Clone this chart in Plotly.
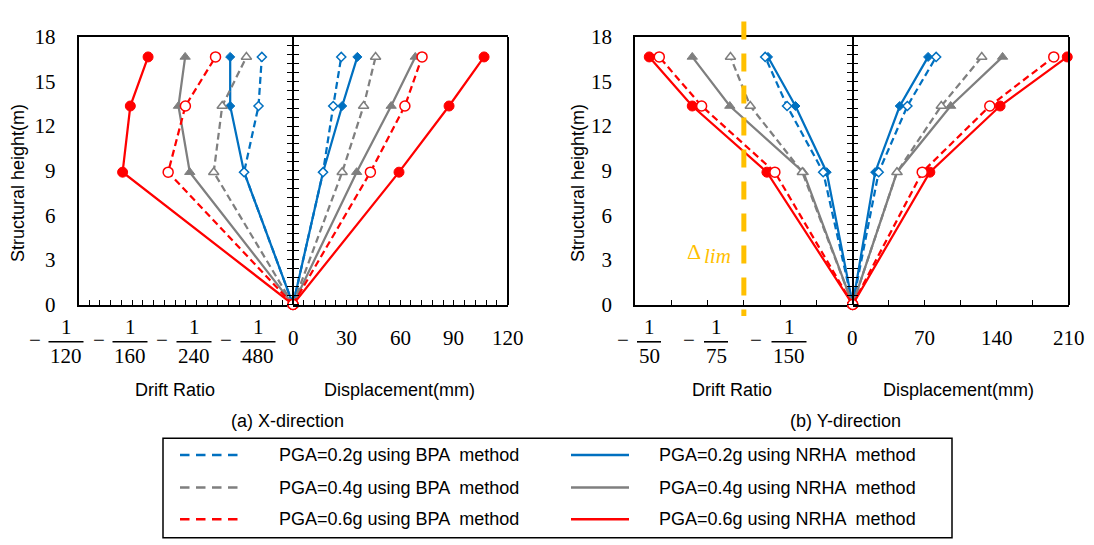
import plotly.graph_objects as go

W, H = 1094, 545

# ---------------- data ----------------
heights = [0, 8.9, 13.35, 16.65]

# (a) X-direction : drift ratio (left half, negative) and displacement in mm (right half)
xa_drift_nrha_02 = [0, -0.00190, -0.00244, -0.00244]
xa_drift_bpa_02 = [0, -0.00190, -0.00134, -0.00121]
xa_drift_nrha_04 = [0, -0.00401, -0.00445, -0.00419]
xa_drift_bpa_04 = [0, -0.00308, -0.00275, -0.00181]
xa_drift_nrha_06 = [0, -0.00662, -0.00632, -0.00563]
xa_drift_bpa_06 = [0, -0.00485, -0.00418, -0.00301]

xa_disp_nrha_02 = [0, 16.8, 27.5, 36.0]
xa_disp_bpa_02 = [0, 16.8, 22.5, 27.0]
xa_disp_nrha_04 = [0, 35.6, 54.9, 68.4]
xa_disp_bpa_04 = [0, 27.5, 39.5, 46.2]
xa_disp_nrha_06 = [0, 59.3, 87.3, 106.9]
xa_disp_bpa_06 = [0, 43.3, 62.6, 72.2]

# (b) Y-direction
yb_drift_nrha_02 = [0, -0.00239, -0.00526, -0.00778]
yb_drift_bpa_02 = [0, -0.00271, -0.00603, -0.00804]
yb_drift_nrha_04 = [0, -0.00453, -0.01129, -0.01474]
yb_drift_bpa_04 = [0, -0.00463, -0.00941, -0.01123]
yb_drift_nrha_06 = [0, -0.00788, -0.01474, -0.01869]
yb_drift_bpa_06 = [0, -0.00715, -0.01388, -0.01777]

yb_disp_nrha_02 = [0, 21.8, 45.7, 73.2]
yb_disp_bpa_02 = [0, 25.2, 53.1, 81.0]
yb_disp_nrha_04 = [0, 43.0, 95.1, 145.5]
yb_disp_bpa_04 = [0, 43.0, 86.0, 125.3]
yb_disp_nrha_06 = [0, 74.9, 143.1, 208.3]
yb_disp_bpa_06 = [0, 67.5, 133.1, 195.2]

delta_lim = -1 / 100

# axis extents / tick labels
xa_drift_max = 1 / 120
xa_disp_max = 120
yb_drift_max = 1 / 50
yb_disp_max = 210
height_max = 18

xa_drift_denoms = [120, 160, 240, 480]
yb_drift_denoms = [50, 75, 150]
xa_disp_ticks = [0, 30, 60, 90, 120]
yb_disp_ticks = [0, 70, 140, 210]
height_ticks = [0, 3, 6, 9, 12, 15, 18]

legend_labels = [
    ("PGA=0.2g using BPA \u00a0method", "PGA=0.2g using NRHA \u00a0method"),
    ("PGA=0.4g using BPA \u00a0method", "PGA=0.4g using NRHA \u00a0method"),
    ("PGA=0.6g using BPA \u00a0method", "PGA=0.6g using NRHA \u00a0method"),
]

# ---------------- styles / layout geometry (pixels) ----------------
C_BLUE, C_GRAY, C_RED, C_LIM = "#0070C0", "#7F7F7F", "#FF0000", "#FFC000"
SERIF = "Liberation Serif"
SANS = "Liberation Sans"

def px(x):
    return x / W

def py(y):
    return 1 - y / H

TOP, BOT = 26, 306
P1 = (78.5, 293.0, 507.5)   # left, centre, right of panel (a)
P2 = (635.0, 852.7, 1069.0)  # panel (b)

series = [
    ("nrha_02", C_BLUE, "solid", "diamond", True, 7),
    ("bpa_02", C_BLUE, "7px,4px", "diamond", False, 7),
    ("nrha_04", C_GRAY, "solid", "triangle-up", True, 9),
    ("bpa_04", C_GRAY, "7px,4px", "triangle-up", False, 9),
    ("nrha_06", C_RED, "solid", "circle", True, 10),
    ("bpa_06", C_RED, "7px,4px", "circle", False, 10),
]

g = globals()
fig = go.Figure()

panels = [
    ("xa", "x", "x2", "y"),
    ("yb", "x3", "x4", "y5"),
]

for pre, xd, xp, ya in panels:
    for key, col, dash, sym, filled, size in series:
        for part, xax in (("drift", xd), ("disp", xp)):
            xs = g[f"{pre}_{part}_{key}"]
            fig.add_trace(go.Scatter(
                x=xs, y=heights, xaxis=xax, yaxis=ya, mode="lines+markers",
                line=dict(color=col, width=2.25, dash=dash),
                marker=dict(symbol=sym, size=size,
                            color=col if filled else "white",
                            line=dict(color=col, width=1 if filled else 1.5)),
                cliponaxis=False, showlegend=False, hoverinfo="skip"))

# dummy empty traces so that the frame / centre axes are created
for xax, yax in (("x2", "y2"), ("x2", "y3"), ("x2", "y4"),
                 ("x4", "y6"), ("x4", "y7"), ("x4", "y8")):
    fig.add_trace(go.Scatter(x=[], y=[], xaxis=xax, yaxis=yax,
                             showlegend=False, hoverinfo="skip"))

ydom = [py(BOT), py(TOP)]

def xaxis(dom, rng, dtick, anchor):
    return dict(domain=dom, range=rng, anchor=anchor, showline=True, mirror=True,
                linecolor="black", linewidth=1.5, ticks="inside", ticklen=5,
                tickwidth=1.2, tickcolor="black", tick0=0, dtick=dtick,
                showticklabels=False, showgrid=False, zeroline=False, fixedrange=True)

def ymain(anchor):
    return dict(domain=ydom, range=[0, height_max], anchor=anchor, side="left",
                showline=True, linecolor="black", linewidth=1.5, ticks="",
                tickvals=height_ticks, ticktext=[str(v) for v in height_ticks],
                tickfont=dict(family=SERIF, size=21, color="black"),
                ticklabelstandoff=17, showgrid=False, zeroline=False, fixedrange=True)

def yover(base, pos, side, ticks):
    d = dict(overlaying=base, anchor="free", position=pos, side=side,
             range=[0, height_max], showline=True, linecolor="black", linewidth=1.5,
             showticklabels=False, showgrid=False, zeroline=False, fixedrange=True)
    if ticks:
        d.update(ticks="outside", ticklen=5, tickwidth=1.2, tickcolor="black",
                 tick0=0, dtick=0.6)
    else:
        d.update(ticks="")
    return d

L1, C1, R1 = P1
L2, C2, R2 = P2

layout = dict(
    width=W, height=H, margin=dict(l=0, r=0, t=0, b=0),
    paper_bgcolor="white", plot_bgcolor="white",
    font=dict(family=SANS, size=18, color="black"),
    showlegend=False,
    xaxis=xaxis([px(L1), px(C1)], [-xa_drift_max, 0], xa_drift_max / 20, "y"),
    xaxis2=xaxis([px(C1), px(R1)], [0, xa_disp_max], xa_disp_max / 20, "y"),
    xaxis3=xaxis([px(L2), px(C2)], [-yb_drift_max, 0], yb_drift_max / 6, "y5"),
    xaxis4=xaxis([px(C2), px(R2)], [0, yb_disp_max], yb_disp_max / 6, "y5"),
    yaxis=ymain("x"),
    yaxis2=yover("y", px(R1), "right", False),
    yaxis3=yover("y", px(C1), "left", True),
    yaxis4=yover("y", px(C1), "right", True),
    yaxis5=ymain("x3"),
    yaxis6=yover("y5", px(R2), "right", False),
    yaxis7=yover("y5", px(C2), "left", True),
    yaxis8=yover("y5", px(C2), "right", True),
)
fig.update_layout(**layout)

ann = []
shapes = []

def text(x, y, s, size=18, family=SANS, color="black", xanchor="center", angle=0):
    ann.append(dict(x=px(x), y=py(y), xref="paper", yref="paper", text=s,
                    showarrow=False, xanchor=xanchor, yanchor="middle",
                    textangle=angle, font=dict(family=family, size=size, color=color)))

# displacement tick labels (placed through the displacement axes)
for v in xa_disp_ticks:
    ann.append(dict(x=v, y=py(341), xref="x2", yref="paper", text=str(v), showarrow=False,
                    xanchor="center", yanchor="middle",
                    font=dict(family=SERIF, size=21, color="black")))
for v in yb_disp_ticks:
    ann.append(dict(x=v, y=py(341), xref="x4", yref="paper", text=str(v), showarrow=False,
                    xanchor="center", yanchor="middle",
                    font=dict(family=SERIF, size=21, color="black")))

# drift-ratio fraction labels
def fraction(xc, xminus, den):
    text(xminus, 343, "\u2212", size=21, family=SERIF)
    text(xc, 329, "1", size=21, family=SERIF)
    text(xc, 360, str(den), size=21, family=SERIF)
    half = 17.5 if den >= 100 else 12
    shapes.append(dict(type="line", xref="paper", yref="paper",
                       x0=px(xc - half), x1=px(xc + half), y0=py(345), y1=py(345),
                       line=dict(color="black", width=1.6)))

for den, xc, xm in zip(xa_drift_denoms, [66, 130, 194, 258], [35, 99, 162, 226]):
    fraction(xc, xm, den)
for den, xc, xm in zip(yb_drift_denoms, [649, 716, 789], [623, 689, 756]):
    fraction(xc, xm, den)

# axis titles
text(18, 179, "Structural height(m)", angle=-90)
text(578, 179, "Structural height(m)", angle=-90)
text(175, 395, "Drift Ratio")
text(399, 395, "Displacement(mm)")
text(287, 428, "(a) X-direction")
text(732, 395, "Drift Ratio")
text(958, 395, "Displacement(mm)")
text(845, 428, "(b) Y-direction")

# drift limit line
shapes.append(dict(type="line", xref="x3", yref="paper", x0=delta_lim, x1=delta_lim,
                   y0=py(10), y1=py(318), line=dict(color=C_LIM, width=5, dash="18px,14px"),
                   layer="above"))
text(694, 251, "\u0394", size=22, family=SERIF, color=C_LIM)
text(702, 255, "<i>lim</i>", size=21, family=SERIF, color=C_LIM, xanchor="left")

# legend (manual, two columns)
shapes.append(dict(type="rect", xref="paper", yref="paper", x0=px(163), x1=px(952),
                   y0=py(446), y1=py(550), line=dict(color="black", width=1.5),
                   fillcolor="rgba(0,0,0,0)"))
row_y = [463.5, 497.5, 530.5]
row_cols = [C_BLUE, C_GRAY, C_RED]
for (lab_bpa, lab_nrha), yy, col in zip(legend_labels, row_y, row_cols):
    shapes.append(dict(type="line", xref="paper", yref="paper", x0=px(180), x1=px(238),
                       y0=py(yy), y1=py(yy), line=dict(color=col, width=2.5, dash="9.5px,6.5px")))
    shapes.append(dict(type="line", xref="paper", yref="paper", x0=px(571), x1=px(629),
                       y0=py(yy), y1=py(yy), line=dict(color=col, width=2.5)))
    text(277, yy, lab_bpa, xanchor="left")
    text(657, yy, lab_nrha, xanchor="left")

fig.update_layout(annotations=ann, shapes=shapes)
fig.write_html("out.html")
